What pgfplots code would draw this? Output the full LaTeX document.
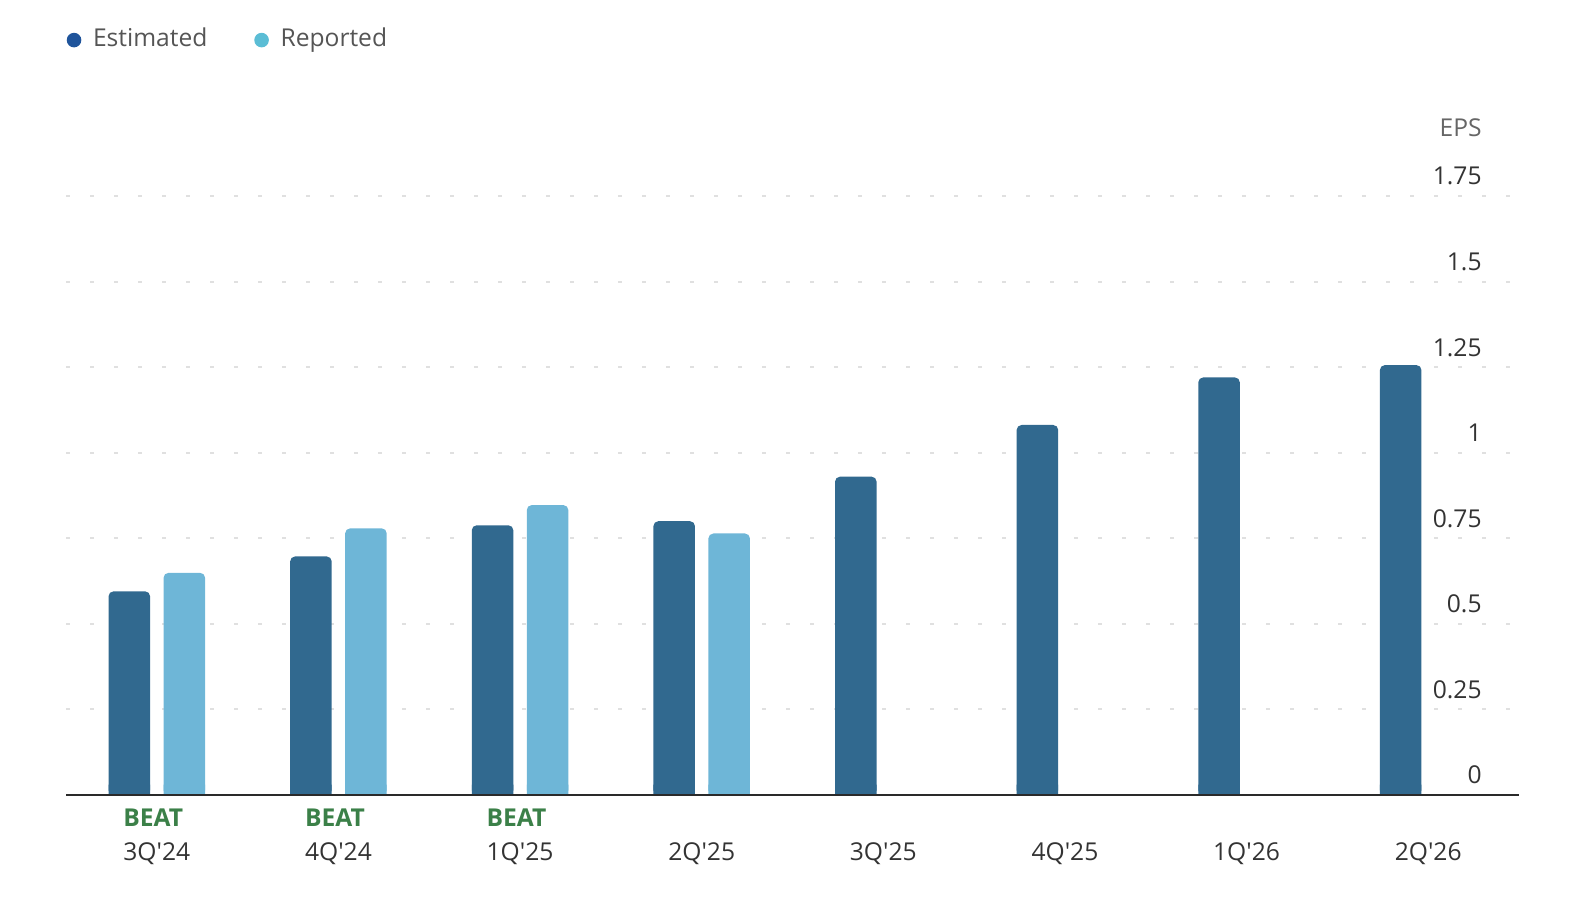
\documentclass[border=0pt]{standalone}
\usepackage{pgfplots}
\pgfplotsset{compat=1.18}
\usepackage{pgfplotstable}
\usepackage{fontspec}
\setmainfont{Open Sans}
\definecolor{estbar}{HTML}{31698F}
\definecolor{repbar}{HTML}{6EB6D7}
\definecolor{estdot}{HTML}{1F549B}
\definecolor{repdot}{HTML}{5BBDD5}
\definecolor{beat}{HTML}{3B8048}
\definecolor{gridc}{HTML}{E0E0E0}
\definecolor{ticktext}{HTML}{333333}
\definecolor{legtext}{HTML}{555555}
\definecolor{epsc}{HTML}{666666}
\definecolor{axisc}{HTML}{2A2A2A}
\newcommand{\q}{\textquotesingle}
\newcommand{\beat}[1]{\begin{tabular}[b]{@{}l@{}}\textcolor{beat}{\bfseries BEAT}\\#1\end{tabular}}

\pgfplotstableread{
x est
0 0.595
1 0.697
2 0.788
3 0.800
4 0.930
5 1.081
6 1.220
7 1.256
}\estdata
\pgfplotstableread{
x rep
0 0.649
1 0.779
2 0.847
3 0.764
}\repdata

\begin{document}
\begin{tikzpicture}
\begin{axis}[
  at={(33pt,62.5pt)}, anchor=south west,
  scale only axis, width=726.5pt, height=299.5pt,
  xmin=-0.5, xmax=7.5, ymin=0, ymax=1.75,
  clip=false,
  axis x line*=bottom, axis y line*=right,
  x axis line style={draw=none}, y axis line style={draw=none},
  tick align=inside, major tick length=0pt,
  xtick style={draw=none}, ytick style={draw=none},
  xtick={0,1,2,3,4,5,6,7},
  xticklabels={{\beat{3Q\q24}},{\beat{4Q\q24}},{\beat{1Q\q25}},2Q\q25,3Q\q25,4Q\q25,1Q\q26,2Q\q26},
  xticklabel style={anchor=base, yshift=-33pt, inner sep=0pt, text=ticktext,
    font=\fontsize{12.3}{17}\selectfont},
  ytick={0,0.25,0.5,0.75,1,1.25,1.5,1.75},
  /pgf/number format/assume math mode=true,
  yticklabel style={anchor=base east, xshift=-18.5pt, yshift=5.5pt, inner sep=0pt,
    text=ticktext, font=\fontsize{12.3}{15}\selectfont},
  ymajorgrids,
  grid style={gridc, line width=1pt, dash pattern=on 2pt off 10pt},
  ylabel={EPS},
  every axis y label/.style={at={(rel axis cs:1,1)}, anchor=base east,
    xshift=-18.5pt, yshift=29.5pt, inner sep=0pt, text=epsc,
    font=\fontsize{12.3}{15}\selectfont},
  legend style={
    at={(axis description cs:0.0005,1.2636)}, anchor=west,
    draw=none, fill=none, inner sep=0pt, outer sep=0pt,
    legend columns=2,
    font=\fontsize{12.3}{15}\selectfont, text=legtext,
    nodes={inner sep=0pt, text height=9pt, text depth=0pt},
    /tikz/every odd column/.append style={column sep=5.85pt},
    /tikz/every even column/.append style={column sep=23.4pt},
  },
  legend cell align=left,
]
\addplot[ybar, bar width=20.8pt, bar shift=-13.75pt, fill=estbar, draw=none,
  rounded corners=2.5pt,
  legend image code/.code={\fill[estdot] (3.65pt,-1.15pt) circle (3.65pt);}]
  table[x=x, y=est] {\estdata};
\addlegendentry{Estimated}
\addplot[ybar, bar width=20.8pt, bar shift=13.75pt, fill=repbar, draw=none,
  rounded corners=2.5pt,
  legend image code/.code={\fill[repdot] (3.65pt,-1.15pt) circle (3.65pt);}]
  table[x=x, y=rep] {\repdata};
\addlegendentry{Reported}
\addplot[ybar, bar width=20.8pt, bar shift=-13.75pt, fill=estbar, draw=none, forget plot]
  table[x=x, y expr={min(\thisrow{est},0.03)}] {\estdata};
\addplot[ybar, bar width=20.8pt, bar shift=13.75pt, fill=repbar, draw=none, forget plot]
  table[x=x, y expr={min(\thisrow{rep},0.03)}] {\repdata};
\draw[line width=1.1pt, axisc] (axis cs:-0.5,0) -- (axis cs:7.5,0);
\end{axis}
\pgfresetboundingbox
\path (0,0) rectangle (795pt,460pt);
\end{tikzpicture}
\end{document}
